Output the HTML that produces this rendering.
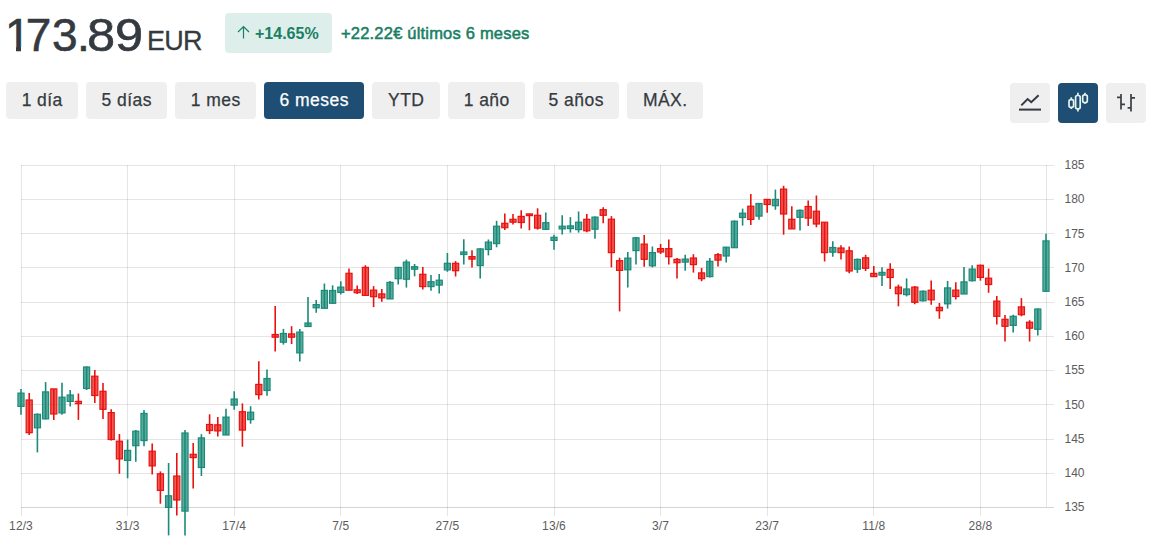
<!DOCTYPE html>
<html><head><meta charset="utf-8">
<style>
html,body{margin:0;padding:0;background:#fff;width:1151px;height:543px;overflow:hidden;position:relative;font-family:"Liberation Sans",sans-serif;}
.abs{position:absolute;white-space:nowrap;}
.price{top:10px;font-size:46px;line-height:50px;color:#343a40;-webkit-text-stroke:0.6px #343a40;letter-spacing:-0.3px;}
.cur{left:147px;top:26px;font-size:27px;line-height:30px;color:#343a40;-webkit-text-stroke:0.3px #343a40;letter-spacing:-0.7px;}
.badge{left:225px;top:13px;width:107px;height:40px;background:#deeeea;border-radius:4px;}
.btxt{left:255px;top:25px;font-size:16px;line-height:18px;font-weight:bold;color:#1a7f64;}
.chg{left:341px;top:24px;font-size:16.5px;line-height:18px;color:#1a7f64;-webkit-text-stroke:0.55px #1a7f64;letter-spacing:0.2px;}
.btn{position:absolute;top:82px;height:37px;background:#efefef;border-radius:4px;color:#343a40;font-size:17.5px;line-height:37px;text-align:center;letter-spacing:0.45px;text-indent:0.45px;-webkit-text-stroke:0.25px currentColor;}
.btn.on{background:#1e4e73;color:#fff;}
.ib{position:absolute;top:83px;width:40px;height:40px;background:#efefef;border-radius:4px;}
.ib.on{background:#1e4e73;}
svg{position:absolute;left:0;top:0;}
.yl{font-size:12px;fill:#5c5c5c;letter-spacing:0px;font-family:"Liberation Sans",sans-serif;}
.xl{font-size:12px;fill:#5c5c5c;letter-spacing:0.1px;font-family:"Liberation Sans",sans-serif;text-anchor:middle;}
</style></head><body>
<div class="abs price" style="left:5px">1</div><div class="abs price" style="left:25.8px">7</div><div class="abs price" style="left:52px">3</div><div class="abs price" style="left:77px">.</div><div class="abs price" style="left:86.5px;transform:scaleX(1.1);transform-origin:0 0">8</div><div class="abs price" style="left:114.6px;transform:scaleX(1.1);transform-origin:0 0">9</div>
<div class="abs cur">EUR</div>
<div class="abs" style="left:7px;top:46.5px;width:9px;height:5px;background:#fff"></div>
<div class="abs" style="left:21px;top:46.5px;width:9px;height:5px;background:#fff"></div>
<div class="abs badge"></div>
<svg width="1151" height="543" style="pointer-events:none">
<path d="M243.5 38.5 V26.5 M238 32 L243.5 26.5 L249 32" stroke="#1a7f64" stroke-width="1.2" fill="none"/>
</svg>
<div class="abs btxt">+14.65%</div>
<div class="abs chg">+22.22€ últimos 6 meses</div>
<div class="btn" style="left:6px;width:72px">1 día</div>
<div class="btn" style="left:86px;width:81px">5 días</div>
<div class="btn" style="left:175px;width:81px">1 mes</div>
<div class="btn on" style="left:264px;width:100px">6 meses</div>
<div class="btn" style="left:372px;width:68px">YTD</div>
<div class="btn" style="left:448px;width:77px">1 año</div>
<div class="btn" style="left:533px;width:86px">5 años</div>
<div class="btn" style="left:627px;width:76px">MÁX.</div>
<div class="ib" style="left:1010px"></div>
<div class="ib on" style="left:1058px"></div>
<div class="ib" style="left:1106px"></div>
<svg width="1151" height="543">
<g fill="none" stroke-linecap="butt">
<path d="M1019 109.6 H1041" stroke="#343a40" stroke-width="2"/>
<path d="M1021.3 105.4 L1027.6 99 L1031.3 102.2 L1038.6 95.3" stroke="#343a40" stroke-width="2" stroke-linejoin="miter"/>
<g stroke="#e3f3ee" stroke-width="1.7">
<path d="M1071.3 97.3 V109"/><rect x="1069" y="99.6" width="4.6" height="7.8" rx="1.8" fill="#1e4e73"/>
<path d="M1077.9 92.8 V111.6"/><rect x="1075.6" y="95.5" width="4.6" height="13.4" rx="1.8" fill="#1e4e73"/>
<path d="M1085 92.8 V103.8"/><rect x="1082.7" y="94.8" width="4.6" height="7.8" rx="1.8" fill="#1e4e73"/>
</g>
<g stroke="#3a3f44" stroke-width="1.7">
<path d="M1121 94 V109.6 M1117 97.4 H1121 M1121 104.4 H1125"/>
<path d="M1131 94 V111.5 M1127.6 107.8 H1131 M1131 97.9 H1135"/>
</g>
</g>
<line x1="21" y1="165.5" x2="1054" y2="165.5" stroke="rgba(0,0,0,0.1)" stroke-width="1"/>
<text x="1064.5" y="169.1" class="yl">185</text>
<line x1="21" y1="199.5" x2="1054" y2="199.5" stroke="rgba(0,0,0,0.1)" stroke-width="1"/>
<text x="1064.5" y="203.3" class="yl">180</text>
<line x1="21" y1="233.5" x2="1054" y2="233.5" stroke="rgba(0,0,0,0.1)" stroke-width="1"/>
<text x="1064.5" y="237.5" class="yl">175</text>
<line x1="21" y1="267.5" x2="1054" y2="267.5" stroke="rgba(0,0,0,0.1)" stroke-width="1"/>
<text x="1064.5" y="271.8" class="yl">170</text>
<line x1="21" y1="302.5" x2="1054" y2="302.5" stroke="rgba(0,0,0,0.1)" stroke-width="1"/>
<text x="1064.5" y="306.0" class="yl">165</text>
<line x1="21" y1="336.5" x2="1054" y2="336.5" stroke="rgba(0,0,0,0.1)" stroke-width="1"/>
<text x="1064.5" y="340.2" class="yl">160</text>
<line x1="21" y1="370.5" x2="1054" y2="370.5" stroke="rgba(0,0,0,0.1)" stroke-width="1"/>
<text x="1064.5" y="374.4" class="yl">155</text>
<line x1="21" y1="404.5" x2="1054" y2="404.5" stroke="rgba(0,0,0,0.1)" stroke-width="1"/>
<text x="1064.5" y="408.6" class="yl">150</text>
<line x1="21" y1="439.5" x2="1054" y2="439.5" stroke="rgba(0,0,0,0.1)" stroke-width="1"/>
<text x="1064.5" y="442.9" class="yl">145</text>
<line x1="21" y1="473.5" x2="1054" y2="473.5" stroke="rgba(0,0,0,0.1)" stroke-width="1"/>
<text x="1064.5" y="477.1" class="yl">140</text>
<line x1="21" y1="507.5" x2="1054" y2="507.5" stroke="rgba(0,0,0,0.17)" stroke-width="1"/>
<text x="1064.5" y="511.3" class="yl">135</text>
<line x1="21.5" y1="165" x2="21.5" y2="516" stroke="rgba(0,0,0,0.1)" stroke-width="1"/>
<text x="21.0" y="530" class="xl">12/3</text>
<line x1="127.5" y1="165" x2="127.5" y2="516" stroke="rgba(0,0,0,0.1)" stroke-width="1"/>
<text x="127.6" y="530" class="xl">31/3</text>
<line x1="234.5" y1="165" x2="234.5" y2="516" stroke="rgba(0,0,0,0.1)" stroke-width="1"/>
<text x="234.2" y="530" class="xl">17/4</text>
<line x1="340.5" y1="165" x2="340.5" y2="516" stroke="rgba(0,0,0,0.1)" stroke-width="1"/>
<text x="340.8" y="530" class="xl">7/5</text>
<line x1="447.5" y1="165" x2="447.5" y2="516" stroke="rgba(0,0,0,0.1)" stroke-width="1"/>
<text x="447.4" y="530" class="xl">27/5</text>
<line x1="554.5" y1="165" x2="554.5" y2="516" stroke="rgba(0,0,0,0.1)" stroke-width="1"/>
<text x="554.0" y="530" class="xl">13/6</text>
<line x1="660.5" y1="165" x2="660.5" y2="516" stroke="rgba(0,0,0,0.1)" stroke-width="1"/>
<text x="660.6" y="530" class="xl">3/7</text>
<line x1="767.5" y1="165" x2="767.5" y2="516" stroke="rgba(0,0,0,0.1)" stroke-width="1"/>
<text x="767.2" y="530" class="xl">23/7</text>
<line x1="873.5" y1="165" x2="873.5" y2="516" stroke="rgba(0,0,0,0.1)" stroke-width="1"/>
<text x="873.8" y="530" class="xl">11/8</text>
<line x1="980.5" y1="165" x2="980.5" y2="516" stroke="rgba(0,0,0,0.1)" stroke-width="1"/>
<text x="980.4" y="530" class="xl">28/8</text>
<line x1="1046.5" y1="165" x2="1046.5" y2="507" stroke="rgba(0,0,0,0.1)" stroke-width="1"/>
<line x1="21.00" y1="388.9" x2="21.00" y2="414.7" stroke="#1b8a78" stroke-width="1.6"/>
<rect x="17.95" y="393.1" width="6.1" height="13.3" fill="rgba(27,138,120,0.72)" stroke="#1b8a78" stroke-width="1.2"/>
<line x1="29.20" y1="393.1" x2="29.20" y2="435.1" stroke="#e8130f" stroke-width="1.6"/>
<rect x="26.15" y="400.0" width="6.1" height="32.7" fill="rgba(232,19,15,0.7)" stroke="#e8130f" stroke-width="1.2"/>
<line x1="37.40" y1="413.4" x2="37.40" y2="452.4" stroke="#1b8a78" stroke-width="1.6"/>
<rect x="34.35" y="414.3" width="6.1" height="13.5" fill="rgba(27,138,120,0.72)" stroke="#1b8a78" stroke-width="1.2"/>
<line x1="45.60" y1="382.1" x2="45.60" y2="419.3" stroke="#1b8a78" stroke-width="1.6"/>
<rect x="42.55" y="391.9" width="6.1" height="27.0" fill="rgba(27,138,120,0.72)" stroke="#1b8a78" stroke-width="1.2"/>
<line x1="53.80" y1="388.9" x2="53.80" y2="419.9" stroke="#e8130f" stroke-width="1.6"/>
<rect x="50.75" y="388.9" width="6.1" height="25.1" fill="rgba(232,19,15,0.7)" stroke="#e8130f" stroke-width="1.2"/>
<line x1="62.00" y1="382.7" x2="62.00" y2="414.7" stroke="#1b8a78" stroke-width="1.6"/>
<rect x="58.95" y="397.2" width="6.1" height="15.7" fill="rgba(27,138,120,0.72)" stroke="#1b8a78" stroke-width="1.2"/>
<line x1="70.20" y1="390.0" x2="70.20" y2="406.4" stroke="#1b8a78" stroke-width="1.6"/>
<rect x="67.15" y="395.0" width="6.1" height="6.4" fill="rgba(27,138,120,0.72)" stroke="#1b8a78" stroke-width="1.2"/>
<line x1="78.40" y1="393.5" x2="78.40" y2="419.9" stroke="#e8130f" stroke-width="1.6"/>
<rect x="75.35" y="401.4" width="6.1" height="2.2" fill="rgba(232,19,15,0.7)" stroke="#e8130f" stroke-width="1.2"/>
<line x1="86.60" y1="366.4" x2="86.60" y2="390.0" stroke="#1b8a78" stroke-width="1.6"/>
<rect x="83.55" y="367.0" width="6.1" height="21.5" fill="rgba(27,138,120,0.72)" stroke="#1b8a78" stroke-width="1.2"/>
<line x1="94.80" y1="370.1" x2="94.80" y2="402.9" stroke="#e8130f" stroke-width="1.6"/>
<rect x="91.75" y="376.2" width="6.1" height="19.3" fill="rgba(232,19,15,0.7)" stroke="#e8130f" stroke-width="1.2"/>
<line x1="103.00" y1="383.0" x2="103.00" y2="418.9" stroke="#e8130f" stroke-width="1.6"/>
<rect x="99.95" y="391.3" width="6.1" height="18.0" fill="rgba(232,19,15,0.7)" stroke="#e8130f" stroke-width="1.2"/>
<line x1="111.20" y1="409.3" x2="111.20" y2="440.5" stroke="#e8130f" stroke-width="1.6"/>
<rect x="108.15" y="412.6" width="6.1" height="26.9" fill="rgba(232,19,15,0.7)" stroke="#e8130f" stroke-width="1.2"/>
<line x1="119.40" y1="434.0" x2="119.40" y2="473.8" stroke="#e8130f" stroke-width="1.6"/>
<rect x="116.35" y="441.2" width="6.1" height="17.7" fill="rgba(232,19,15,0.7)" stroke="#e8130f" stroke-width="1.2"/>
<line x1="127.60" y1="439.6" x2="127.60" y2="478.3" stroke="#1b8a78" stroke-width="1.6"/>
<rect x="124.55" y="450.4" width="6.1" height="10.0" fill="rgba(27,138,120,0.72)" stroke="#1b8a78" stroke-width="1.2"/>
<line x1="135.80" y1="430.1" x2="135.80" y2="461.7" stroke="#1b8a78" stroke-width="1.6"/>
<rect x="132.75" y="431.2" width="6.1" height="14.5" fill="rgba(27,138,120,0.72)" stroke="#1b8a78" stroke-width="1.2"/>
<line x1="144.00" y1="409.9" x2="144.00" y2="446.2" stroke="#1b8a78" stroke-width="1.6"/>
<rect x="140.95" y="413.4" width="6.1" height="27.2" fill="rgba(27,138,120,0.72)" stroke="#1b8a78" stroke-width="1.2"/>
<line x1="152.20" y1="443.4" x2="152.20" y2="474.6" stroke="#e8130f" stroke-width="1.6"/>
<rect x="149.15" y="451.2" width="6.1" height="14.7" fill="rgba(232,19,15,0.7)" stroke="#e8130f" stroke-width="1.2"/>
<line x1="160.40" y1="471.4" x2="160.40" y2="503.7" stroke="#e8130f" stroke-width="1.6"/>
<rect x="157.35" y="473.8" width="6.1" height="16.6" fill="rgba(232,19,15,0.7)" stroke="#e8130f" stroke-width="1.2"/>
<line x1="168.60" y1="463.0" x2="168.60" y2="535.4" stroke="#1b8a78" stroke-width="1.6"/>
<rect x="165.55" y="495.8" width="6.1" height="11.6" fill="rgba(27,138,120,0.72)" stroke="#1b8a78" stroke-width="1.2"/>
<line x1="176.80" y1="453.0" x2="176.80" y2="515.6" stroke="#e8130f" stroke-width="1.6"/>
<rect x="173.75" y="476.0" width="6.1" height="24.0" fill="rgba(232,19,15,0.7)" stroke="#e8130f" stroke-width="1.2"/>
<line x1="185.00" y1="430.0" x2="185.00" y2="535.4" stroke="#1b8a78" stroke-width="1.6"/>
<rect x="181.95" y="433.0" width="6.1" height="78.1" fill="rgba(27,138,120,0.72)" stroke="#1b8a78" stroke-width="1.2"/>
<line x1="193.20" y1="442.9" x2="193.20" y2="488.5" stroke="#e8130f" stroke-width="1.6"/>
<rect x="190.15" y="454.3" width="6.1" height="3.3" fill="rgba(232,19,15,0.7)" stroke="#e8130f" stroke-width="1.2"/>
<line x1="201.40" y1="434.2" x2="201.40" y2="476.0" stroke="#1b8a78" stroke-width="1.6"/>
<rect x="198.35" y="437.9" width="6.1" height="29.6" fill="rgba(27,138,120,0.72)" stroke="#1b8a78" stroke-width="1.2"/>
<line x1="209.60" y1="414.3" x2="209.60" y2="434.0" stroke="#e8130f" stroke-width="1.6"/>
<rect x="206.55" y="424.5" width="6.1" height="6.0" fill="rgba(232,19,15,0.7)" stroke="#e8130f" stroke-width="1.2"/>
<line x1="217.80" y1="417.1" x2="217.80" y2="436.4" stroke="#e8130f" stroke-width="1.6"/>
<rect x="214.75" y="424.8" width="6.1" height="6.1" fill="rgba(232,19,15,0.7)" stroke="#e8130f" stroke-width="1.2"/>
<line x1="226.00" y1="408.8" x2="226.00" y2="435.0" stroke="#1b8a78" stroke-width="1.6"/>
<rect x="222.95" y="417.1" width="6.1" height="17.9" fill="rgba(27,138,120,0.72)" stroke="#1b8a78" stroke-width="1.2"/>
<line x1="234.20" y1="391.3" x2="234.20" y2="409.7" stroke="#1b8a78" stroke-width="1.6"/>
<rect x="231.15" y="399.0" width="6.1" height="6.1" fill="rgba(27,138,120,0.72)" stroke="#1b8a78" stroke-width="1.2"/>
<line x1="242.40" y1="403.4" x2="242.40" y2="446.7" stroke="#e8130f" stroke-width="1.6"/>
<rect x="239.35" y="411.7" width="6.1" height="18.4" fill="rgba(232,19,15,0.7)" stroke="#e8130f" stroke-width="1.2"/>
<line x1="250.60" y1="406.2" x2="250.60" y2="423.7" stroke="#1b8a78" stroke-width="1.6"/>
<rect x="247.55" y="412.2" width="6.1" height="7.4" fill="rgba(27,138,120,0.72)" stroke="#1b8a78" stroke-width="1.2"/>
<line x1="258.80" y1="361.3" x2="258.80" y2="399.4" stroke="#e8130f" stroke-width="1.6"/>
<rect x="255.75" y="384.4" width="6.1" height="10.2" fill="rgba(232,19,15,0.7)" stroke="#e8130f" stroke-width="1.2"/>
<line x1="267.00" y1="369.5" x2="267.00" y2="395.7" stroke="#1b8a78" stroke-width="1.6"/>
<rect x="263.95" y="378.5" width="6.1" height="12.0" fill="rgba(27,138,120,0.72)" stroke="#1b8a78" stroke-width="1.2"/>
<line x1="275.20" y1="305.9" x2="275.20" y2="351.6" stroke="#e8130f" stroke-width="1.6"/>
<rect x="272.15" y="334.5" width="6.1" height="2.7" fill="rgba(232,19,15,0.7)" stroke="#e8130f" stroke-width="1.2"/>
<line x1="283.40" y1="328.9" x2="283.40" y2="344.6" stroke="#1b8a78" stroke-width="1.6"/>
<rect x="280.35" y="333.5" width="6.1" height="8.7" fill="rgba(27,138,120,0.72)" stroke="#1b8a78" stroke-width="1.2"/>
<line x1="291.60" y1="326.2" x2="291.60" y2="344.0" stroke="#e8130f" stroke-width="1.6"/>
<rect x="288.55" y="333.9" width="6.1" height="3.3" fill="rgba(232,19,15,0.7)" stroke="#e8130f" stroke-width="1.2"/>
<line x1="299.80" y1="328.9" x2="299.80" y2="361.5" stroke="#1b8a78" stroke-width="1.6"/>
<rect x="296.75" y="332.1" width="6.1" height="20.8" fill="rgba(27,138,120,0.72)" stroke="#1b8a78" stroke-width="1.2"/>
<line x1="308.00" y1="297.1" x2="308.00" y2="326.5" stroke="#1b8a78" stroke-width="1.6"/>
<rect x="304.95" y="323.0" width="6.1" height="3.5" fill="rgba(27,138,120,0.72)" stroke="#1b8a78" stroke-width="1.2"/>
<line x1="316.20" y1="300.0" x2="316.20" y2="312.7" stroke="#1b8a78" stroke-width="1.6"/>
<rect x="313.15" y="304.6" width="6.1" height="3.2" fill="rgba(27,138,120,0.72)" stroke="#1b8a78" stroke-width="1.2"/>
<line x1="324.40" y1="283.5" x2="324.40" y2="308.3" stroke="#1b8a78" stroke-width="1.6"/>
<rect x="321.35" y="290.4" width="6.1" height="17.9" fill="rgba(27,138,120,0.72)" stroke="#1b8a78" stroke-width="1.2"/>
<line x1="332.60" y1="285.3" x2="332.60" y2="303.3" stroke="#1b8a78" stroke-width="1.6"/>
<rect x="329.55" y="290.5" width="6.1" height="12.8" fill="rgba(27,138,120,0.72)" stroke="#1b8a78" stroke-width="1.2"/>
<line x1="340.80" y1="281.2" x2="340.80" y2="294.5" stroke="#1b8a78" stroke-width="1.6"/>
<rect x="337.75" y="287.1" width="6.1" height="5.3" fill="rgba(27,138,120,0.72)" stroke="#1b8a78" stroke-width="1.2"/>
<line x1="349.00" y1="268.4" x2="349.00" y2="290.2" stroke="#e8130f" stroke-width="1.6"/>
<rect x="345.95" y="273.3" width="6.1" height="16.9" fill="rgba(232,19,15,0.7)" stroke="#e8130f" stroke-width="1.2"/>
<line x1="357.20" y1="285.6" x2="357.20" y2="293.9" stroke="#e8130f" stroke-width="1.6"/>
<rect x="354.15" y="289.8" width="6.1" height="2.9" fill="rgba(232,19,15,0.7)" stroke="#e8130f" stroke-width="1.2"/>
<line x1="365.40" y1="265.2" x2="365.40" y2="295.4" stroke="#e8130f" stroke-width="1.6"/>
<rect x="362.35" y="267.4" width="6.1" height="28.0" fill="rgba(232,19,15,0.7)" stroke="#e8130f" stroke-width="1.2"/>
<line x1="373.60" y1="286.1" x2="373.60" y2="307.1" stroke="#e8130f" stroke-width="1.6"/>
<rect x="370.55" y="290.1" width="6.1" height="6.6" fill="rgba(232,19,15,0.7)" stroke="#e8130f" stroke-width="1.2"/>
<line x1="381.80" y1="289.0" x2="381.80" y2="301.8" stroke="#e8130f" stroke-width="1.6"/>
<rect x="378.75" y="293.9" width="6.1" height="4.0" fill="rgba(232,19,15,0.7)" stroke="#e8130f" stroke-width="1.2"/>
<line x1="390.00" y1="280.9" x2="390.00" y2="298.9" stroke="#1b8a78" stroke-width="1.6"/>
<rect x="386.95" y="282.4" width="6.1" height="16.5" fill="rgba(27,138,120,0.72)" stroke="#1b8a78" stroke-width="1.2"/>
<line x1="398.20" y1="267.4" x2="398.20" y2="284.5" stroke="#1b8a78" stroke-width="1.6"/>
<rect x="395.15" y="267.4" width="6.1" height="11.3" fill="rgba(27,138,120,0.72)" stroke="#1b8a78" stroke-width="1.2"/>
<line x1="406.40" y1="259.6" x2="406.40" y2="287.6" stroke="#1b8a78" stroke-width="1.6"/>
<rect x="403.35" y="262.1" width="6.1" height="17.1" fill="rgba(27,138,120,0.72)" stroke="#1b8a78" stroke-width="1.2"/>
<line x1="414.60" y1="264.0" x2="414.60" y2="276.3" stroke="#1b8a78" stroke-width="1.6"/>
<rect x="411.55" y="266.7" width="6.1" height="2.5" fill="rgba(27,138,120,0.72)" stroke="#1b8a78" stroke-width="1.2"/>
<line x1="422.80" y1="267.0" x2="422.80" y2="289.5" stroke="#e8130f" stroke-width="1.6"/>
<rect x="419.75" y="274.3" width="6.1" height="12.3" fill="rgba(232,19,15,0.7)" stroke="#e8130f" stroke-width="1.2"/>
<line x1="431.00" y1="275.1" x2="431.00" y2="290.8" stroke="#1b8a78" stroke-width="1.6"/>
<rect x="427.95" y="281.7" width="6.1" height="4.9" fill="rgba(27,138,120,0.72)" stroke="#1b8a78" stroke-width="1.2"/>
<line x1="439.20" y1="274.0" x2="439.20" y2="293.5" stroke="#1b8a78" stroke-width="1.6"/>
<rect x="436.15" y="280.2" width="6.1" height="4.9" fill="rgba(27,138,120,0.72)" stroke="#1b8a78" stroke-width="1.2"/>
<line x1="447.40" y1="253.0" x2="447.40" y2="271.8" stroke="#1b8a78" stroke-width="1.6"/>
<rect x="444.35" y="263.3" width="6.1" height="6.6" fill="rgba(27,138,120,0.72)" stroke="#1b8a78" stroke-width="1.2"/>
<line x1="455.60" y1="261.1" x2="455.60" y2="276.5" stroke="#e8130f" stroke-width="1.6"/>
<rect x="452.55" y="263.3" width="6.1" height="7.4" fill="rgba(232,19,15,0.7)" stroke="#e8130f" stroke-width="1.2"/>
<line x1="463.80" y1="239.3" x2="463.80" y2="264.5" stroke="#1b8a78" stroke-width="1.6"/>
<rect x="460.75" y="252.0" width="6.1" height="2.5" fill="rgba(27,138,120,0.72)" stroke="#1b8a78" stroke-width="1.2"/>
<line x1="472.00" y1="250.2" x2="472.00" y2="267.5" stroke="#e8130f" stroke-width="1.6"/>
<rect x="468.95" y="256.6" width="6.1" height="2.5" fill="rgba(232,19,15,0.7)" stroke="#e8130f" stroke-width="1.2"/>
<line x1="480.20" y1="248.3" x2="480.20" y2="278.6" stroke="#1b8a78" stroke-width="1.6"/>
<rect x="477.15" y="248.9" width="6.1" height="16.7" fill="rgba(27,138,120,0.72)" stroke="#1b8a78" stroke-width="1.2"/>
<line x1="488.40" y1="239.5" x2="488.40" y2="255.4" stroke="#1b8a78" stroke-width="1.6"/>
<rect x="485.35" y="242.1" width="6.1" height="7.4" fill="rgba(27,138,120,0.72)" stroke="#1b8a78" stroke-width="1.2"/>
<line x1="496.60" y1="220.8" x2="496.60" y2="247.3" stroke="#1b8a78" stroke-width="1.6"/>
<rect x="493.55" y="226.2" width="6.1" height="17.4" fill="rgba(27,138,120,0.72)" stroke="#1b8a78" stroke-width="1.2"/>
<line x1="504.80" y1="213.4" x2="504.80" y2="230.1" stroke="#e8130f" stroke-width="1.6"/>
<rect x="501.75" y="223.3" width="6.1" height="4.4" fill="rgba(232,19,15,0.7)" stroke="#e8130f" stroke-width="1.2"/>
<line x1="513.00" y1="214.1" x2="513.00" y2="224.5" stroke="#e8130f" stroke-width="1.6"/>
<rect x="509.95" y="219.3" width="6.1" height="2.9" fill="rgba(232,19,15,0.7)" stroke="#e8130f" stroke-width="1.2"/>
<line x1="521.20" y1="210.2" x2="521.20" y2="228.6" stroke="#e8130f" stroke-width="1.6"/>
<rect x="518.15" y="216.4" width="6.1" height="6.1" fill="rgba(232,19,15,0.7)" stroke="#e8130f" stroke-width="1.2"/>
<line x1="529.40" y1="213.9" x2="529.40" y2="230.3" stroke="#e8130f" stroke-width="1.6"/>
<rect x="526.35" y="213.9" width="6.1" height="1.7" fill="rgba(232,19,15,0.7)" stroke="#e8130f" stroke-width="1.2"/>
<line x1="537.60" y1="208.3" x2="537.60" y2="229.6" stroke="#e8130f" stroke-width="1.6"/>
<rect x="534.55" y="215.3" width="6.1" height="12.8" fill="rgba(232,19,15,0.7)" stroke="#e8130f" stroke-width="1.2"/>
<line x1="545.80" y1="212.4" x2="545.80" y2="230.0" stroke="#1b8a78" stroke-width="1.6"/>
<rect x="542.75" y="222.7" width="6.1" height="6.6" fill="rgba(27,138,120,0.72)" stroke="#1b8a78" stroke-width="1.2"/>
<line x1="554.00" y1="234.8" x2="554.00" y2="249.8" stroke="#1b8a78" stroke-width="1.6"/>
<rect x="550.95" y="237.3" width="6.1" height="3.1" fill="rgba(27,138,120,0.72)" stroke="#1b8a78" stroke-width="1.2"/>
<line x1="562.20" y1="215.2" x2="562.20" y2="234.5" stroke="#1b8a78" stroke-width="1.6"/>
<rect x="559.15" y="226.2" width="6.1" height="2.7" fill="rgba(27,138,120,0.72)" stroke="#1b8a78" stroke-width="1.2"/>
<line x1="570.40" y1="217.1" x2="570.40" y2="232.6" stroke="#1b8a78" stroke-width="1.6"/>
<rect x="567.35" y="225.9" width="6.1" height="2.7" fill="rgba(27,138,120,0.72)" stroke="#1b8a78" stroke-width="1.2"/>
<line x1="578.60" y1="211.5" x2="578.60" y2="232.6" stroke="#1b8a78" stroke-width="1.6"/>
<rect x="575.55" y="222.2" width="6.1" height="7.4" fill="rgba(27,138,120,0.72)" stroke="#1b8a78" stroke-width="1.2"/>
<line x1="586.80" y1="214.1" x2="586.80" y2="232.3" stroke="#e8130f" stroke-width="1.6"/>
<rect x="583.75" y="219.3" width="6.1" height="11.5" fill="rgba(232,19,15,0.7)" stroke="#e8130f" stroke-width="1.2"/>
<line x1="595.00" y1="216.4" x2="595.00" y2="238.7" stroke="#1b8a78" stroke-width="1.6"/>
<rect x="591.95" y="217.1" width="6.1" height="12.1" fill="rgba(27,138,120,0.72)" stroke="#1b8a78" stroke-width="1.2"/>
<line x1="603.20" y1="207.2" x2="603.20" y2="223.3" stroke="#e8130f" stroke-width="1.6"/>
<rect x="600.15" y="209.7" width="6.1" height="5.6" fill="rgba(232,19,15,0.7)" stroke="#e8130f" stroke-width="1.2"/>
<line x1="611.40" y1="216.1" x2="611.40" y2="267.4" stroke="#e8130f" stroke-width="1.6"/>
<rect x="608.35" y="219.2" width="6.1" height="33.4" fill="rgba(232,19,15,0.7)" stroke="#e8130f" stroke-width="1.2"/>
<line x1="619.60" y1="257.7" x2="619.60" y2="311.4" stroke="#e8130f" stroke-width="1.6"/>
<rect x="616.55" y="260.7" width="6.1" height="9.7" fill="rgba(232,19,15,0.7)" stroke="#e8130f" stroke-width="1.2"/>
<line x1="627.80" y1="252.0" x2="627.80" y2="287.5" stroke="#1b8a78" stroke-width="1.6"/>
<rect x="624.75" y="258.1" width="6.1" height="11.7" fill="rgba(27,138,120,0.72)" stroke="#1b8a78" stroke-width="1.2"/>
<line x1="636.00" y1="237.0" x2="636.00" y2="264.4" stroke="#1b8a78" stroke-width="1.6"/>
<rect x="632.95" y="237.8" width="6.1" height="12.8" fill="rgba(27,138,120,0.72)" stroke="#1b8a78" stroke-width="1.2"/>
<line x1="644.20" y1="235.0" x2="644.20" y2="266.8" stroke="#e8130f" stroke-width="1.6"/>
<rect x="641.15" y="244.1" width="6.1" height="15.2" fill="rgba(232,19,15,0.7)" stroke="#e8130f" stroke-width="1.2"/>
<line x1="652.40" y1="246.5" x2="652.40" y2="267.4" stroke="#1b8a78" stroke-width="1.6"/>
<rect x="649.35" y="252.6" width="6.1" height="13.2" fill="rgba(27,138,120,0.72)" stroke="#1b8a78" stroke-width="1.2"/>
<line x1="660.60" y1="243.9" x2="660.60" y2="254.0" stroke="#e8130f" stroke-width="1.6"/>
<rect x="657.55" y="248.6" width="6.1" height="3.4" fill="rgba(232,19,15,0.7)" stroke="#e8130f" stroke-width="1.2"/>
<line x1="668.80" y1="239.4" x2="668.80" y2="264.4" stroke="#e8130f" stroke-width="1.6"/>
<rect x="665.75" y="248.6" width="6.1" height="8.1" fill="rgba(232,19,15,0.7)" stroke="#e8130f" stroke-width="1.2"/>
<line x1="677.00" y1="258.1" x2="677.00" y2="278.5" stroke="#e8130f" stroke-width="1.6"/>
<rect x="673.95" y="259.4" width="6.1" height="3.3" fill="rgba(232,19,15,0.7)" stroke="#e8130f" stroke-width="1.2"/>
<line x1="685.20" y1="254.7" x2="685.20" y2="270.7" stroke="#1b8a78" stroke-width="1.6"/>
<rect x="682.15" y="259.1" width="6.1" height="3.0" fill="rgba(27,138,120,0.72)" stroke="#1b8a78" stroke-width="1.2"/>
<line x1="693.40" y1="254.2" x2="693.40" y2="272.6" stroke="#e8130f" stroke-width="1.6"/>
<rect x="690.35" y="258.0" width="6.1" height="6.6" fill="rgba(232,19,15,0.7)" stroke="#e8130f" stroke-width="1.2"/>
<line x1="701.60" y1="267.9" x2="701.60" y2="281.2" stroke="#e8130f" stroke-width="1.6"/>
<rect x="698.55" y="272.9" width="6.1" height="5.8" fill="rgba(232,19,15,0.7)" stroke="#e8130f" stroke-width="1.2"/>
<line x1="709.80" y1="258.0" x2="709.80" y2="277.4" stroke="#1b8a78" stroke-width="1.6"/>
<rect x="706.75" y="261.3" width="6.1" height="15.3" fill="rgba(27,138,120,0.72)" stroke="#1b8a78" stroke-width="1.2"/>
<line x1="718.00" y1="253.0" x2="718.00" y2="266.6" stroke="#e8130f" stroke-width="1.6"/>
<rect x="714.95" y="254.7" width="6.1" height="5.4" fill="rgba(232,19,15,0.7)" stroke="#e8130f" stroke-width="1.2"/>
<line x1="726.20" y1="246.7" x2="726.20" y2="262.6" stroke="#1b8a78" stroke-width="1.6"/>
<rect x="723.15" y="247.2" width="6.1" height="8.8" fill="rgba(27,138,120,0.72)" stroke="#1b8a78" stroke-width="1.2"/>
<line x1="734.40" y1="220.4" x2="734.40" y2="247.7" stroke="#1b8a78" stroke-width="1.6"/>
<rect x="731.35" y="221.2" width="6.1" height="26.5" fill="rgba(27,138,120,0.72)" stroke="#1b8a78" stroke-width="1.2"/>
<line x1="742.60" y1="208.6" x2="742.60" y2="225.6" stroke="#1b8a78" stroke-width="1.6"/>
<rect x="739.55" y="213.2" width="6.1" height="4.3" fill="rgba(27,138,120,0.72)" stroke="#1b8a78" stroke-width="1.2"/>
<line x1="750.80" y1="194.1" x2="750.80" y2="225.1" stroke="#e8130f" stroke-width="1.6"/>
<rect x="747.75" y="206.2" width="6.1" height="13.2" fill="rgba(232,19,15,0.7)" stroke="#e8130f" stroke-width="1.2"/>
<line x1="759.00" y1="203.2" x2="759.00" y2="219.8" stroke="#1b8a78" stroke-width="1.6"/>
<rect x="755.95" y="203.5" width="6.1" height="12.6" fill="rgba(27,138,120,0.72)" stroke="#1b8a78" stroke-width="1.2"/>
<line x1="767.20" y1="199.4" x2="767.20" y2="212.8" stroke="#e8130f" stroke-width="1.6"/>
<rect x="764.15" y="199.4" width="6.1" height="5.1" fill="rgba(232,19,15,0.7)" stroke="#e8130f" stroke-width="1.2"/>
<line x1="775.40" y1="189.6" x2="775.40" y2="209.8" stroke="#1b8a78" stroke-width="1.6"/>
<rect x="772.35" y="199.4" width="6.1" height="6.3" fill="rgba(27,138,120,0.72)" stroke="#1b8a78" stroke-width="1.2"/>
<line x1="783.60" y1="185.8" x2="783.60" y2="234.7" stroke="#e8130f" stroke-width="1.6"/>
<rect x="780.55" y="189.1" width="6.1" height="24.9" fill="rgba(232,19,15,0.7)" stroke="#e8130f" stroke-width="1.2"/>
<line x1="791.80" y1="206.2" x2="791.80" y2="228.9" stroke="#e8130f" stroke-width="1.6"/>
<rect x="788.75" y="219.3" width="6.1" height="9.6" fill="rgba(232,19,15,0.7)" stroke="#e8130f" stroke-width="1.2"/>
<line x1="800.00" y1="209.5" x2="800.00" y2="230.5" stroke="#1b8a78" stroke-width="1.6"/>
<rect x="796.95" y="210.3" width="6.1" height="7.0" fill="rgba(27,138,120,0.72)" stroke="#1b8a78" stroke-width="1.2"/>
<line x1="808.20" y1="200.4" x2="808.20" y2="225.9" stroke="#e8130f" stroke-width="1.6"/>
<rect x="805.15" y="206.5" width="6.1" height="11.6" fill="rgba(232,19,15,0.7)" stroke="#e8130f" stroke-width="1.2"/>
<line x1="816.40" y1="195.5" x2="816.40" y2="227.3" stroke="#e8130f" stroke-width="1.6"/>
<rect x="813.35" y="211.2" width="6.1" height="12.8" fill="rgba(232,19,15,0.7)" stroke="#e8130f" stroke-width="1.2"/>
<line x1="824.60" y1="222.2" x2="824.60" y2="261.5" stroke="#e8130f" stroke-width="1.6"/>
<rect x="821.55" y="222.2" width="6.1" height="30.4" fill="rgba(232,19,15,0.7)" stroke="#e8130f" stroke-width="1.2"/>
<line x1="832.80" y1="241.2" x2="832.80" y2="256.7" stroke="#1b8a78" stroke-width="1.6"/>
<rect x="829.75" y="247.5" width="6.1" height="4.7" fill="rgba(27,138,120,0.72)" stroke="#1b8a78" stroke-width="1.2"/>
<line x1="841.00" y1="245.2" x2="841.00" y2="259.6" stroke="#e8130f" stroke-width="1.6"/>
<rect x="837.95" y="248.0" width="6.1" height="4.6" fill="rgba(232,19,15,0.7)" stroke="#e8130f" stroke-width="1.2"/>
<line x1="849.20" y1="246.5" x2="849.20" y2="273.2" stroke="#e8130f" stroke-width="1.6"/>
<rect x="846.15" y="250.8" width="6.1" height="20.2" fill="rgba(232,19,15,0.7)" stroke="#e8130f" stroke-width="1.2"/>
<line x1="857.40" y1="258.5" x2="857.40" y2="272.9" stroke="#1b8a78" stroke-width="1.6"/>
<rect x="854.35" y="259.4" width="6.1" height="9.8" fill="rgba(27,138,120,0.72)" stroke="#1b8a78" stroke-width="1.2"/>
<line x1="865.60" y1="254.8" x2="865.60" y2="271.0" stroke="#e8130f" stroke-width="1.6"/>
<rect x="862.55" y="257.8" width="6.1" height="10.5" fill="rgba(232,19,15,0.7)" stroke="#e8130f" stroke-width="1.2"/>
<line x1="873.80" y1="266.1" x2="873.80" y2="276.6" stroke="#e8130f" stroke-width="1.6"/>
<rect x="870.75" y="273.4" width="6.1" height="3.2" fill="rgba(232,19,15,0.7)" stroke="#e8130f" stroke-width="1.2"/>
<line x1="882.00" y1="267.3" x2="882.00" y2="286.1" stroke="#1b8a78" stroke-width="1.6"/>
<rect x="878.95" y="272.4" width="6.1" height="2.7" fill="rgba(27,138,120,0.72)" stroke="#1b8a78" stroke-width="1.2"/>
<line x1="890.20" y1="263.3" x2="890.20" y2="289.0" stroke="#e8130f" stroke-width="1.6"/>
<rect x="887.15" y="269.4" width="6.1" height="8.1" fill="rgba(232,19,15,0.7)" stroke="#e8130f" stroke-width="1.2"/>
<line x1="898.40" y1="284.6" x2="898.40" y2="306.3" stroke="#e8130f" stroke-width="1.6"/>
<rect x="895.35" y="287.1" width="6.1" height="6.6" fill="rgba(232,19,15,0.7)" stroke="#e8130f" stroke-width="1.2"/>
<line x1="906.60" y1="278.4" x2="906.60" y2="296.4" stroke="#1b8a78" stroke-width="1.6"/>
<rect x="903.55" y="289.0" width="6.1" height="5.6" fill="rgba(27,138,120,0.72)" stroke="#1b8a78" stroke-width="1.2"/>
<line x1="914.80" y1="286.1" x2="914.80" y2="304.2" stroke="#e8130f" stroke-width="1.6"/>
<rect x="911.75" y="287.1" width="6.1" height="15.2" fill="rgba(232,19,15,0.7)" stroke="#e8130f" stroke-width="1.2"/>
<line x1="923.00" y1="290.5" x2="923.00" y2="301.5" stroke="#1b8a78" stroke-width="1.6"/>
<rect x="919.95" y="291.2" width="6.1" height="9.6" fill="rgba(27,138,120,0.72)" stroke="#1b8a78" stroke-width="1.2"/>
<line x1="931.20" y1="280.6" x2="931.20" y2="304.8" stroke="#e8130f" stroke-width="1.6"/>
<rect x="928.15" y="290.2" width="6.1" height="9.6" fill="rgba(232,19,15,0.7)" stroke="#e8130f" stroke-width="1.2"/>
<line x1="939.40" y1="303.0" x2="939.40" y2="318.8" stroke="#e8130f" stroke-width="1.6"/>
<rect x="936.35" y="307.4" width="6.1" height="3.3" fill="rgba(232,19,15,0.7)" stroke="#e8130f" stroke-width="1.2"/>
<line x1="947.60" y1="280.9" x2="947.60" y2="308.6" stroke="#1b8a78" stroke-width="1.6"/>
<rect x="944.55" y="287.9" width="6.1" height="15.9" fill="rgba(27,138,120,0.72)" stroke="#1b8a78" stroke-width="1.2"/>
<line x1="955.80" y1="282.2" x2="955.80" y2="299.5" stroke="#e8130f" stroke-width="1.6"/>
<rect x="952.75" y="290.1" width="6.1" height="6.4" fill="rgba(232,19,15,0.7)" stroke="#e8130f" stroke-width="1.2"/>
<line x1="964.00" y1="267.1" x2="964.00" y2="294.0" stroke="#1b8a78" stroke-width="1.6"/>
<rect x="960.95" y="281.9" width="6.1" height="12.1" fill="rgba(27,138,120,0.72)" stroke="#1b8a78" stroke-width="1.2"/>
<line x1="972.20" y1="265.3" x2="972.20" y2="281.5" stroke="#1b8a78" stroke-width="1.6"/>
<rect x="969.15" y="269.1" width="6.1" height="11.6" fill="rgba(27,138,120,0.72)" stroke="#1b8a78" stroke-width="1.2"/>
<line x1="980.40" y1="264.6" x2="980.40" y2="280.7" stroke="#e8130f" stroke-width="1.6"/>
<rect x="977.35" y="265.3" width="6.1" height="12.1" fill="rgba(232,19,15,0.7)" stroke="#e8130f" stroke-width="1.2"/>
<line x1="988.60" y1="268.6" x2="988.60" y2="292.8" stroke="#e8130f" stroke-width="1.6"/>
<rect x="985.55" y="278.2" width="6.1" height="6.3" fill="rgba(232,19,15,0.7)" stroke="#e8130f" stroke-width="1.2"/>
<line x1="996.80" y1="295.9" x2="996.80" y2="324.6" stroke="#e8130f" stroke-width="1.6"/>
<rect x="993.75" y="301.1" width="6.1" height="15.2" fill="rgba(232,19,15,0.7)" stroke="#e8130f" stroke-width="1.2"/>
<line x1="1005.00" y1="315.0" x2="1005.00" y2="341.5" stroke="#e8130f" stroke-width="1.6"/>
<rect x="1001.95" y="319.3" width="6.1" height="7.0" fill="rgba(232,19,15,0.7)" stroke="#e8130f" stroke-width="1.2"/>
<line x1="1013.20" y1="314.7" x2="1013.20" y2="332.4" stroke="#1b8a78" stroke-width="1.6"/>
<rect x="1010.15" y="316.3" width="6.1" height="9.1" fill="rgba(27,138,120,0.72)" stroke="#1b8a78" stroke-width="1.2"/>
<line x1="1021.40" y1="298.1" x2="1021.40" y2="316.3" stroke="#e8130f" stroke-width="1.6"/>
<rect x="1018.35" y="306.9" width="6.1" height="7.8" fill="rgba(232,19,15,0.7)" stroke="#e8130f" stroke-width="1.2"/>
<line x1="1029.60" y1="320.2" x2="1029.60" y2="341.5" stroke="#e8130f" stroke-width="1.6"/>
<rect x="1026.55" y="322.2" width="6.1" height="6.0" fill="rgba(232,19,15,0.7)" stroke="#e8130f" stroke-width="1.2"/>
<line x1="1037.80" y1="308.5" x2="1037.80" y2="335.5" stroke="#1b8a78" stroke-width="1.6"/>
<rect x="1034.75" y="309.0" width="6.1" height="20.3" fill="rgba(27,138,120,0.72)" stroke="#1b8a78" stroke-width="1.2"/>
<line x1="1046.00" y1="233.8" x2="1046.00" y2="291.3" stroke="#1b8a78" stroke-width="1.6"/>
<rect x="1042.95" y="240.9" width="6.1" height="50.4" fill="rgba(27,138,120,0.72)" stroke="#1b8a78" stroke-width="1.2"/>
</svg>
</body></html>
